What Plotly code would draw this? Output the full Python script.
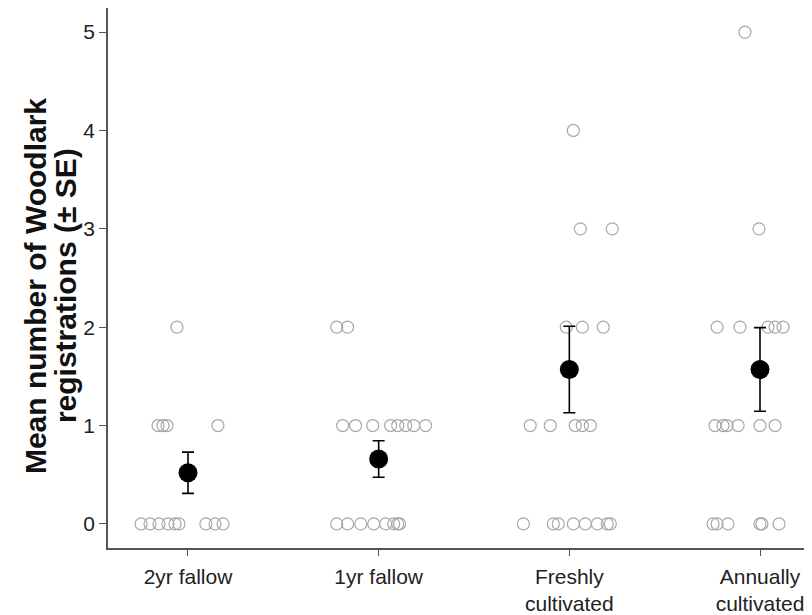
import plotly.graph_objects as go

categories = ["2yr fallow", "1yr fallow", "Freshly<br>cultivated", "Annually<br>cultivated"]
means = [0.52, 0.66, 1.57, 1.57]
se = [0.21, 0.185, 0.44, 0.425]

# individual registrations per site (value) and horizontal jitter (category units)
fallow2_values = [2, 1, 1, 1, 1, 0, 0, 0, 0, 0, 0, 0, 0, 0]
fallow2_jitter = [-0.058, -0.157, -0.131, -0.110, 0.157,
                  -0.246, -0.199, -0.152, -0.105, -0.068, -0.047, 0.094, 0.142, 0.184]

fallow1_values = [2, 2, 1, 1, 1, 1, 1, 1, 1, 1, 0, 0, 0, 0, 0, 0, 0, 0]
fallow1_jitter = [-0.220, -0.163,
                  -0.189, -0.121, -0.031, 0.063, 0.100, 0.142, 0.184, 0.246,
                  -0.220, -0.163, -0.094, -0.026, 0.037, 0.079, 0.100, 0.110]

fresh_values = [4, 3, 3, 2, 2, 2, 1, 1, 1, 1, 1, 0, 0, 0, 0, 0, 0, 0, 0]
fresh_jitter = [0.021, 0.058, 0.225, -0.016, 0.068, 0.178,
                -0.205, -0.100, 0.031, 0.068, 0.110,
                -0.241, -0.084, -0.058, 0.021, 0.084, 0.147, 0.199, 0.215]

annual_values = [5, 3, 2, 2, 2, 2, 2, 1, 1, 1, 1, 1, 1, 0, 0, 0, 0, 0, 0]
annual_jitter = [-0.079, -0.005,
                 -0.225, -0.105, 0.042, 0.079, 0.121,
                 -0.236, -0.194, -0.173, -0.115, 0.0, 0.079,
                 -0.246, -0.225, -0.168, 0.0, 0.010, 0.100]

y_ticks = [0, 1, 2, 3, 4, 5]

groups = [(fallow2_values, fallow2_jitter), (fallow1_values, fallow1_jitter),
          (fresh_values, fresh_jitter), (annual_values, annual_jitter)]

fig = go.Figure()

for i, (vals, jit) in enumerate(groups):
    fig.add_trace(go.Scatter(
        x=[i + j for j in jit], y=vals, mode="markers",
        marker=dict(symbol="circle-open", size=12, color="#a8a8a8",
                    line=dict(width=1.2, color="#a8a8a8")),
        hoverinfo="skip", showlegend=False))

fig.add_trace(go.Scatter(
    x=list(range(len(categories))), y=means, mode="markers",
    marker=dict(symbol="circle", size=19, color="black"),
    error_y=dict(type="data", array=se, visible=True, color="black",
                 thickness=1.6, width=6),
    showlegend=False))

axis_color = "#555555"
font_family = "Liberation Sans, Arial, sans-serif"

# page body has an 8px margin, so the figure is 8px smaller than the window
fig.update_layout(
    width=804, height=607,
    margin=dict(l=100, r=0, t=0, b=67),
    plot_bgcolor="white", paper_bgcolor="white",
    font=dict(family=font_family, color="#222222"),
    xaxis=dict(
        range=[-0.4195, 3.2727],
        tickmode="array", tickvals=list(range(len(categories))), ticktext=categories,
        showgrid=False, zeroline=False,
        showline=True, linecolor=axis_color, linewidth=1.6,
        ticks="outside", ticklen=6, tickwidth=1.2, tickcolor=axis_color,
        ticklabelstandoff=3,
        tickfont=dict(size=21, family=font_family, color="#222222"),
    ),
    yaxis=dict(
        range=[-0.245, 5.245],
        tickmode="array", tickvals=y_ticks, ticktext=[str(v) for v in y_ticks],
        showgrid=False, zeroline=False,
        showline=True, linecolor=axis_color, linewidth=1.6,
        ticks="outside", ticklen=7, tickwidth=1.2, tickcolor=axis_color,
        tickfont=dict(size=21, family=font_family, color="#222222"),
    ),
)

title_lines = ["Mean number of Woodlark", "registrations (± SE)"]
title_px = [27, 57]
for line, px in zip(title_lines, title_px):
    fig.add_annotation(
        text="<b>" + line + "</b>", textangle=-90,
        xref="paper", yref="paper", x=(px - 100) / 704, y=0.485,
        xanchor="center", yanchor="middle", showarrow=False,
        font=dict(size=30, family=font_family, color="#111111"))

fig.write_html("out.html")
